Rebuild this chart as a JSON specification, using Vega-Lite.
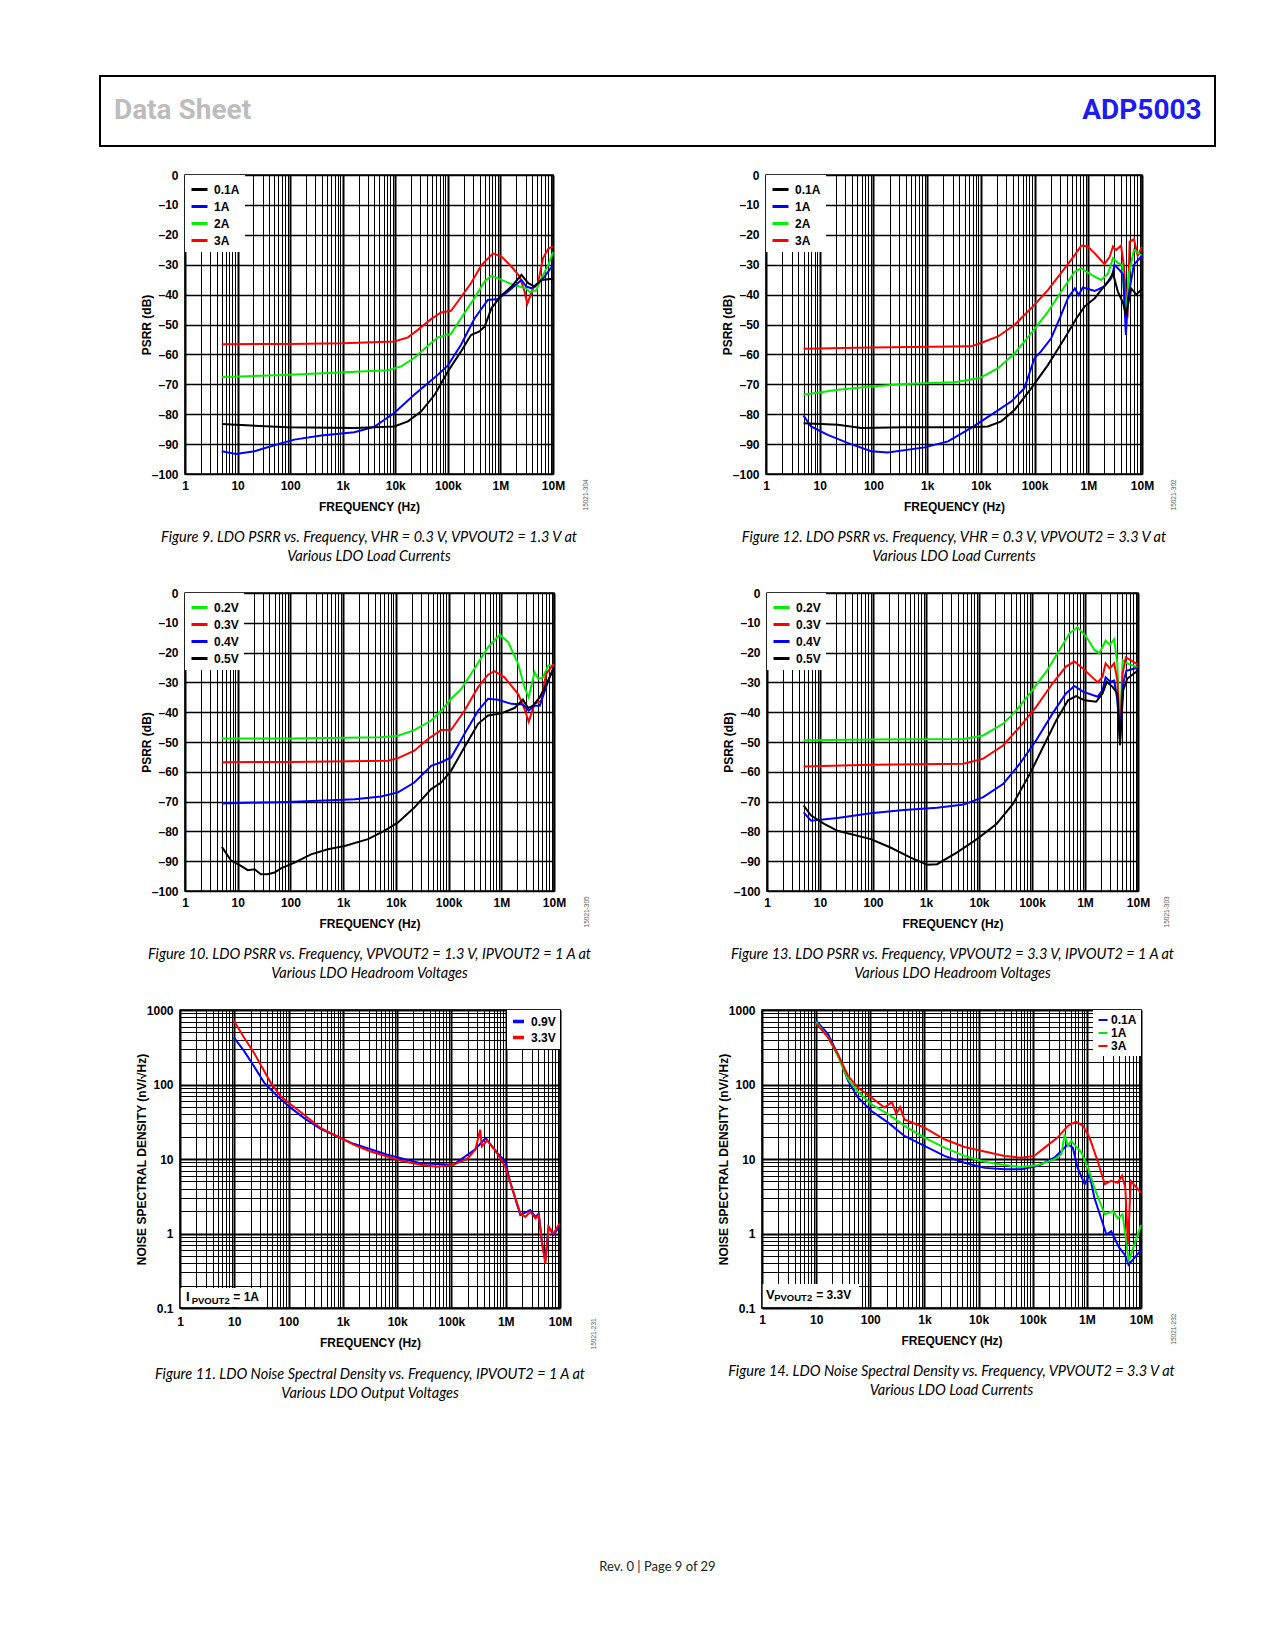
{
  "$schema": "https://vega.github.io/schema/vega-lite/v6.json",
  "background": "white",
  "padding": {"left": 99, "top": 75, "right": 20, "bottom": 20},
  "spacing": 21,
  "resolve": {"scale": {"color": "independent"}, "legend": {"color": "independent"}},
  "config": {
    "font": "Liberation Sans",
    "view": {"stroke": null},
    "axis": {
      "labelFont": "Liberation Sans", "labelFontWeight": "bold", "labelFontSize": 12, "labelColor": "black",
      "titleFont": "Liberation Sans", "titleFontWeight": "bold", "titleFontSize": 12, "titleColor": "black",
      "ticks": false, "domain": false, "gridColor": "black", "gridOpacity": 1,
      "labelOverlap": false, "labelPadding": 7, "titlePadding": -2
    },
    "axisX": {"labelFlush": false, "labelPadding": 6, "titlePadding": 10},
    "legend": {
      "labelFont": "Liberation Sans", "labelFontWeight": "bold", "labelFontSize": 12, "labelColor": "black",
      "fillColor": "white", "padding": 5, "offset": 0, "symbolType": "stroke",
      "symbolStrokeWidth": 3, "symbolSize": 256, "rowPadding": 1, "labelOffset": 5
    },
    "title": {
      "orient": "bottom", "anchor": "middle", "frame": "group", "font": "Lato", "fontStyle": "italic",
      "fontWeight": "normal", "fontSize": 14.5, "color": "black", "lineHeight": 19, "offset": 19
    }
  },
  "datasets": {
    "fig9": [
      {"curve":"3A","hz":5,"db":-56.6},{"curve":"3A","hz":100,"db":-56.5},{"curve":"3A","hz":1000,"db":-56.3},{"curve":"3A","hz":9550,"db":-55.7},{"curve":"3A","hz":17400,"db":-54.3},{"curve":"3A","hz":26900,"db":-51.8},{"curve":"3A","hz":47900,"db":-48.2},{"curve":"3A","hz":74100,"db":-46},{"curve":"3A","hz":115000,"db":-45.4},{"curve":"3A","hz":155000,"db":-42.3},{"curve":"3A","hz":275000,"db":-36.2},{"curve":"3A","hz":437000,"db":-30.1},{"curve":"3A","hz":724000,"db":-26.2},{"curve":"3A","hz":1050000,"db":-27.3},{"curve":"3A","hz":1620000,"db":-30.6},{"curve":"3A","hz":2340000,"db":-34},{"curve":"3A","hz":2880000,"db":-39},{"curve":"3A","hz":3240000,"db":-43.1},{"curve":"3A","hz":4170000,"db":-37.9},{"curve":"3A","hz":5130000,"db":-36.5},{"curve":"3A","hz":6460000,"db":-27.8},{"curve":"3A","hz":8130000,"db":-24.7},{"curve":"3A","hz":10000000,"db":-23.9},
      {"curve":"2A","hz":5,"db":-67.6},{"curve":"2A","hz":100,"db":-66.8},{"curve":"2A","hz":7240,"db":-65.3},{"curve":"2A","hz":12900,"db":-64},{"curve":"2A","hz":22900,"db":-61.2},{"curve":"2A","hz":41700,"db":-57.1},{"curve":"2A","hz":64600,"db":-54.3},{"curve":"2A","hz":115000,"db":-53.1},{"curve":"2A","hz":178000,"db":-47.9},{"curve":"2A","hz":324000,"db":-41},{"curve":"2A","hz":501000,"db":-35.6},{"curve":"2A","hz":676000,"db":-33.7},{"curve":"2A","hz":1050000,"db":-35.1},{"curve":"2A","hz":1620000,"db":-36.5},{"curve":"2A","hz":2140000,"db":-37.1},{"curve":"2A","hz":3090000,"db":-37.9},{"curve":"2A","hz":3630000,"db":-39.2},{"curve":"2A","hz":4790000,"db":-38.6},{"curve":"2A","hz":6030000,"db":-34.5},{"curve":"2A","hz":8130000,"db":-30.1},{"curve":"2A","hz":10000000,"db":-25.8},
      {"curve":"1A","hz":5,"db":-92.4},{"curve":"1A","hz":9.3,"db":-93.3},{"curve":"1A","hz":21,"db":-92.4},{"curve":"1A","hz":50,"db":-90.4},{"curve":"1A","hz":120,"db":-88.5},{"curve":"1A","hz":389,"db":-87.1},{"curve":"1A","hz":1660,"db":-86},{"curve":"1A","hz":3980,"db":-84.2},{"curve":"1A","hz":9550,"db":-79.6},{"curve":"1A","hz":22900,"db":-73.5},{"curve":"1A","hz":64600,"db":-66.8},{"curve":"1A","hz":100000,"db":-63.7},{"curve":"1A","hz":178000,"db":-56.8},{"curve":"1A","hz":324000,"db":-47.9},{"curve":"1A","hz":575000,"db":-41.8},{"curve":"1A","hz":891000,"db":-41.5},{"curve":"1A","hz":1380000,"db":-39},{"curve":"1A","hz":2510000,"db":-35.1},{"curve":"1A","hz":3090000,"db":-37.3},{"curve":"1A","hz":3890000,"db":-37.9},{"curve":"1A","hz":5130000,"db":-36.2},{"curve":"1A","hz":6920000,"db":-34},{"curve":"1A","hz":10000000,"db":-30.1},
      {"curve":"0.1A","hz":5,"db":-83.3},{"curve":"0.1A","hz":89,"db":-84.4},{"curve":"0.1A","hz":1660,"db":-84.6},{"curve":"0.1A","hz":9550,"db":-84.1},{"curve":"0.1A","hz":17400,"db":-82.4},{"curve":"0.1A","hz":30900,"db":-79.1},{"curve":"0.1A","hz":56200,"db":-73.5},{"curve":"0.1A","hz":100000,"db":-65.7},{"curve":"0.1A","hz":178000,"db":-59},{"curve":"0.1A","hz":275000,"db":-53.5},{"curve":"0.1A","hz":398000,"db":-52.3},{"curve":"0.1A","hz":501000,"db":-50.7},{"curve":"0.1A","hz":676000,"db":-44.5},{"curve":"0.1A","hz":1050000,"db":-40.3},{"curve":"0.1A","hz":1620000,"db":-37.3},{"curve":"0.1A","hz":2510000,"db":-33.4},{"curve":"0.1A","hz":3390000,"db":-36.2},{"curve":"0.1A","hz":4470000,"db":-37.3},{"curve":"0.1A","hz":6030000,"db":-35.1},{"curve":"0.1A","hz":10000000,"db":-34.7}
    ],
    "fig12": [
      {"curve":"3A","hz":5,"db":-58.1},{"curve":"3A","hz":91,"db":-57.7},{"curve":"3A","hz":6610,"db":-57.3},{"curve":"3A","hz":10000,"db":-56.2},{"curve":"3A","hz":20900,"db":-54},{"curve":"3A","hz":42700,"db":-50.1},{"curve":"3A","hz":87100,"db":-44.5},{"curve":"3A","hz":178000,"db":-38.4},{"curve":"3A","hz":363000,"db":-31.2},{"curve":"3A","hz":562000,"db":-26.7},{"curve":"3A","hz":741000,"db":-23.6},{"curve":"3A","hz":977000,"db":-23.9},{"curve":"3A","hz":1320000,"db":-26.2},{"curve":"3A","hz":2000000,"db":-29.8},{"curve":"3A","hz":2510000,"db":-27.3},{"curve":"3A","hz":2880000,"db":-23.9},{"curve":"3A","hz":3310000,"db":-25.1},{"curve":"3A","hz":4070000,"db":-23.6},{"curve":"3A","hz":4570000,"db":-30.1},{"curve":"3A","hz":5370000,"db":-47.9},{"curve":"3A","hz":5890000,"db":-22.3},{"curve":"3A","hz":7080000,"db":-21.5},{"curve":"3A","hz":8320000,"db":-27},{"curve":"3A","hz":10000000,"db":-24},
      {"curve":"2A","hz":5,"db":-73.5},{"curve":"2A","hz":21.9,"db":-71.8},{"curve":"2A","hz":91,"db":-70.7},{"curve":"2A","hz":380,"db":-69.9},{"curve":"2A","hz":3240,"db":-69.3},{"curve":"2A","hz":9550,"db":-67.9},{"curve":"2A","hz":20900,"db":-64.6},{"curve":"2A","hz":42700,"db":-59.6},{"curve":"2A","hz":87100,"db":-52.9},{"curve":"2A","hz":178000,"db":-45.7},{"curve":"2A","hz":363000,"db":-37.3},{"curve":"2A","hz":562000,"db":-32.3},{"curve":"2A","hz":741000,"db":-31.2},{"curve":"2A","hz":1150000,"db":-33.4},{"curve":"2A","hz":1740000,"db":-35.1},{"curve":"2A","hz":2340000,"db":-32.9},{"curve":"2A","hz":2880000,"db":-27.8},{"curve":"2A","hz":3550000,"db":-29.4},{"curve":"2A","hz":4270000,"db":-30.1},{"curve":"2A","hz":5010000,"db":-47.9},{"curve":"2A","hz":5750000,"db":-32.9},{"curve":"2A","hz":7080000,"db":-25},{"curve":"2A","hz":10000000,"db":-27},
      {"curve":"1A","hz":5,"db":-80.5},{"curve":"1A","hz":6.9,"db":-84.1},{"curve":"1A","hz":14.1,"db":-86.9},{"curve":"1A","hz":33,"db":-89.6},{"curve":"1A","hz":91,"db":-92.4},{"curve":"1A","hz":186,"db":-92.8},{"curve":"1A","hz":891,"db":-91.1},{"curve":"1A","hz":2450,"db":-89.1},{"curve":"1A","hz":6610,"db":-84.6},{"curve":"1A","hz":15500,"db":-80.2},{"curve":"1A","hz":37200,"db":-75.7},{"curve":"1A","hz":64600,"db":-71.3},{"curve":"1A","hz":100000,"db":-61.2},{"curve":"1A","hz":132000,"db":-59},{"curve":"1A","hz":204000,"db":-54.6},{"curve":"1A","hz":295000,"db":-47.9},{"curve":"1A","hz":417000,"db":-41.2},{"curve":"1A","hz":562000,"db":-37.9},{"curve":"1A","hz":661000,"db":-40.1},{"curve":"1A","hz":794000,"db":-37.6},{"curve":"1A","hz":1320000,"db":-38.8},{"curve":"1A","hz":2000000,"db":-37.3},{"curve":"1A","hz":2690000,"db":-34.5},{"curve":"1A","hz":3090000,"db":-30.1},{"curve":"1A","hz":3800000,"db":-31.7},{"curve":"1A","hz":4470000,"db":-33.4},{"curve":"1A","hz":5010000,"db":-53.5},{"curve":"1A","hz":5500000,"db":-41.2},{"curve":"1A","hz":7080000,"db":-30},{"curve":"1A","hz":10000000,"db":-27},
      {"curve":"0.1A","hz":5,"db":-83},{"curve":"0.1A","hz":21.9,"db":-83.5},{"curve":"0.1A","hz":59,"db":-84.6},{"curve":"0.1A","hz":380,"db":-84.4},{"curve":"0.1A","hz":6610,"db":-84.4},{"curve":"0.1A","hz":13500,"db":-84.1},{"curve":"0.1A","hz":24000,"db":-82.4},{"curve":"0.1A","hz":42700,"db":-78.5},{"curve":"0.1A","hz":87100,"db":-71.3},{"curve":"0.1A","hz":178000,"db":-63.5},{"curve":"0.1A","hz":363000,"db":-54.6},{"curve":"0.1A","hz":603000,"db":-47.9},{"curve":"0.1A","hz":851000,"db":-44},{"curve":"0.1A","hz":1320000,"db":-41.2},{"curve":"0.1A","hz":1740000,"db":-38.4},{"curve":"0.1A","hz":2340000,"db":-35.6},{"curve":"0.1A","hz":2880000,"db":-32.9},{"curve":"0.1A","hz":3550000,"db":-39},{"curve":"0.1A","hz":4470000,"db":-42.9},{"curve":"0.1A","hz":5010000,"db":-46.8},{"curve":"0.1A","hz":6310000,"db":-38},{"curve":"0.1A","hz":7940000,"db":-40},{"curve":"0.1A","hz":10000000,"db":-38}
    ],
    "fig10": [
      {"curve":"0.2V","hz":5,"db":-48.8},{"curve":"0.2V","hz":100,"db":-48.8},{"curve":"0.2V","hz":5250,"db":-48.4},{"curve":"0.2V","hz":11000,"db":-47.9},{"curve":"0.2V","hz":22400,"db":-46},{"curve":"0.2V","hz":46800,"db":-42.8},{"curve":"0.2V","hz":72400,"db":-39.5},{"curve":"0.2V","hz":112000,"db":-35.5},{"curve":"0.2V","hz":174000,"db":-32.2},{"curve":"0.2V","hz":309000,"db":-25.4},{"curve":"0.2V","hz":562000,"db":-18.2},{"curve":"0.2V","hz":933000,"db":-14},{"curve":"0.2V","hz":1350000,"db":-16.5},{"curve":"0.2V","hz":2090000,"db":-23.8},{"curve":"0.2V","hz":2750000,"db":-31.6},{"curve":"0.2V","hz":3310000,"db":-35},{"curve":"0.2V","hz":4270000,"db":-26.6},{"curve":"0.2V","hz":5010000,"db":-28.8},{"curve":"0.2V","hz":6170000,"db":-28.3},{"curve":"0.2V","hz":7760000,"db":-24.3},{"curve":"0.2V","hz":10000000,"db":-24.3},
      {"curve":"0.3V","hz":5,"db":-56.8},{"curve":"0.3V","hz":100,"db":-56.7},{"curve":"0.3V","hz":7080,"db":-56.3},{"curve":"0.3V","hz":11000,"db":-55.4},{"curve":"0.3V","hz":22400,"db":-52.9},{"curve":"0.3V","hz":40700,"db":-49},{"curve":"0.3V","hz":72400,"db":-46},{"curve":"0.3V","hz":112000,"db":-45.9},{"curve":"0.3V","hz":200000,"db":-39.5},{"curve":"0.3V","hz":363000,"db":-31.6},{"curve":"0.3V","hz":562000,"db":-27.4},{"curve":"0.3V","hz":741000,"db":-26.2},{"curve":"0.3V","hz":1150000,"db":-28.3},{"curve":"0.3V","hz":2090000,"db":-33.9},{"curve":"0.3V","hz":2750000,"db":-38.9},{"curve":"0.3V","hz":3310000,"db":-43.2},{"curve":"0.3V","hz":4270000,"db":-37.2},{"curve":"0.3V","hz":5750000,"db":-36.1},{"curve":"0.3V","hz":7080000,"db":-27.1},{"curve":"0.3V","hz":10000000,"db":-23.8},
      {"curve":"0.4V","hz":5,"db":-70.6},{"curve":"0.4V","hz":89,"db":-70.1},{"curve":"0.4V","hz":1660,"db":-69.2},{"curve":"0.4V","hz":5250,"db":-68.3},{"curve":"0.4V","hz":11000,"db":-66.9},{"curve":"0.4V","hz":22400,"db":-63.6},{"curve":"0.4V","hz":46800,"db":-58},{"curve":"0.4V","hz":72400,"db":-56.8},{"curve":"0.4V","hz":112000,"db":-55.2},{"curve":"0.4V","hz":200000,"db":-47.3},{"curve":"0.4V","hz":363000,"db":-39.5},{"curve":"0.4V","hz":562000,"db":-35.5},{"curve":"0.4V","hz":871000,"db":-35.8},{"curve":"0.4V","hz":1550000,"db":-37.2},{"curve":"0.4V","hz":2570000,"db":-37.4},{"curve":"0.4V","hz":3310000,"db":-39.5},{"curve":"0.4V","hz":4270000,"db":-37.8},{"curve":"0.4V","hz":5370000,"db":-37.8},{"curve":"0.4V","hz":7760000,"db":-29.4},{"curve":"0.4V","hz":10000000,"db":-24.9},
      {"curve":"0.5V","hz":5,"db":-85.2},{"curve":"0.5V","hz":7.4,"db":-89.7},{"curve":"0.5V","hz":11.5,"db":-91.6},{"curve":"0.5V","hz":15.5,"db":-93},{"curve":"0.5V","hz":20.9,"db":-92.7},{"curve":"0.5V","hz":27.5,"db":-94.4},{"curve":"0.5V","hz":37.2,"db":-94.4},{"curve":"0.5V","hz":50,"db":-93.8},{"curve":"0.5V","hz":66,"db":-92.4},{"curve":"0.5V","hz":120,"db":-90.5},{"curve":"0.5V","hz":245,"db":-87.7},{"curve":"0.5V","hz":513,"db":-86},{"curve":"0.5V","hz":1070,"db":-84.9},{"curve":"0.5V","hz":2950,"db":-82.6},{"curve":"0.5V","hz":6030,"db":-79.8},{"curve":"0.5V","hz":11000,"db":-77},{"curve":"0.5V","hz":22400,"db":-72},{"curve":"0.5V","hz":46800,"db":-65.8},{"curve":"0.5V","hz":72400,"db":-63.6},{"curve":"0.5V","hz":112000,"db":-59.6},{"curve":"0.5V","hz":200000,"db":-51.8},{"curve":"0.5V","hz":363000,"db":-43.9},{"curve":"0.5V","hz":562000,"db":-41.1},{"curve":"0.5V","hz":1000000,"db":-40.4},{"curve":"0.5V","hz":1780000,"db":-38.6},{"curve":"0.5V","hz":2570000,"db":-35.8},{"curve":"0.5V","hz":3240000,"db":-38.6},{"curve":"0.5V","hz":3980000,"db":-37.8},{"curve":"0.5V","hz":5370000,"db":-35},{"curve":"0.5V","hz":7760000,"db":-29.4},{"curve":"0.5V","hz":10000000,"db":-24.9}
    ],
    "fig13": [
      {"curve":"0.2V","hz":4.9,"db":-49.4},{"curve":"0.2V","hz":100,"db":-49.2},{"curve":"0.2V","hz":5130,"db":-49},{"curve":"0.2V","hz":12000,"db":-47.8},{"curve":"0.2V","hz":28800,"db":-43.8},{"curve":"0.2V","hz":51300,"db":-39.3},{"curve":"0.2V","hz":91200,"db":-33.7},{"curve":"0.2V","hz":186000,"db":-26.4},{"curve":"0.2V","hz":331000,"db":-19.1},{"curve":"0.2V","hz":513000,"db":-13.5},{"curve":"0.2V","hz":724000,"db":-11.5},{"curve":"0.2V","hz":1050000,"db":-14.6},{"curve":"0.2V","hz":1510000,"db":-19.1},{"curve":"0.2V","hz":1860000,"db":-20.2},{"curve":"0.2V","hz":2450000,"db":-16},{"curve":"0.2V","hz":2950000,"db":-17.4},{"curve":"0.2V","hz":3550000,"db":-15.5},{"curve":"0.2V","hz":4070000,"db":-23.6},{"curve":"0.2V","hz":4570000,"db":-47.2},{"curve":"0.2V","hz":5130000,"db":-22.5},{"curve":"0.2V","hz":6310000,"db":-23.6},{"curve":"0.2V","hz":10000000,"db":-25},
      {"curve":"0.3V","hz":4.9,"db":-58.2},{"curve":"0.3V","hz":91,"db":-57.6},{"curve":"0.3V","hz":5130,"db":-57.3},{"curve":"0.3V","hz":12000,"db":-55.6},{"curve":"0.3V","hz":28800,"db":-51.1},{"curve":"0.3V","hz":58900,"db":-44.9},{"curve":"0.3V","hz":120000,"db":-38.2},{"curve":"0.3V","hz":245000,"db":-30.3},{"curve":"0.3V","hz":437000,"db":-24.7},{"curve":"0.3V","hz":631000,"db":-23},{"curve":"0.3V","hz":912000,"db":-25.3},{"curve":"0.3V","hz":1740000,"db":-30},{"curve":"0.3V","hz":2140000,"db":-28.1},{"curve":"0.3V","hz":2450000,"db":-23.6},{"curve":"0.3V","hz":2950000,"db":-25.3},{"curve":"0.3V","hz":3550000,"db":-23.6},{"curve":"0.3V","hz":4070000,"db":-29.2},{"curve":"0.3V","hz":4570000,"db":-49.4},{"curve":"0.3V","hz":5130000,"db":-27},{"curve":"0.3V","hz":5890000,"db":-21.6},{"curve":"0.3V","hz":10000000,"db":-24},
      {"curve":"0.4V","hz":4.9,"db":-73.6},{"curve":"0.4V","hz":6.8,"db":-76.4},{"curve":"0.4V","hz":21.4,"db":-75.5},{"curve":"0.4V","hz":91,"db":-73.9},{"curve":"0.4V","hz":380,"db":-72.8},{"curve":"0.4V","hz":1620,"db":-72.1},{"curve":"0.4V","hz":5130,"db":-71},{"curve":"0.4V","hz":12000,"db":-68.5},{"curve":"0.4V","hz":28800,"db":-64},{"curve":"0.4V","hz":58900,"db":-57.3},{"curve":"0.4V","hz":120000,"db":-49.4},{"curve":"0.4V","hz":245000,"db":-40.4},{"curve":"0.4V","hz":437000,"db":-33.7},{"curve":"0.4V","hz":631000,"db":-31.2},{"curve":"0.4V","hz":912000,"db":-33.1},{"curve":"0.4V","hz":1740000,"db":-34.8},{"curve":"0.4V","hz":2140000,"db":-32.6},{"curve":"0.4V","hz":2450000,"db":-28.3},{"curve":"0.4V","hz":3020000,"db":-29.8},{"curve":"0.4V","hz":3550000,"db":-29.4},{"curve":"0.4V","hz":4070000,"db":-35.7},{"curve":"0.4V","hz":4570000,"db":-48.9},{"curve":"0.4V","hz":5250000,"db":-30.3},{"curve":"0.4V","hz":6030000,"db":-26.1},{"curve":"0.4V","hz":10000000,"db":-25},
      {"curve":"0.5V","hz":4.9,"db":-71.3},{"curve":"0.5V","hz":6.8,"db":-74.7},{"curve":"0.5V","hz":12,"db":-77.5},{"curve":"0.5V","hz":21.4,"db":-79.8},{"curve":"0.5V","hz":91,"db":-82.6},{"curve":"0.5V","hz":214,"db":-85.4},{"curve":"0.5V","hz":513,"db":-88.8},{"curve":"0.5V","hz":1050,"db":-91.2},{"curve":"0.5V","hz":1620,"db":-91},{"curve":"0.5V","hz":3800,"db":-87.1},{"curve":"0.5V","hz":9120,"db":-82.6},{"curve":"0.5V","hz":21400,"db":-77.5},{"curve":"0.5V","hz":43700,"db":-70.8},{"curve":"0.5V","hz":91200,"db":-60.7},{"curve":"0.5V","hz":162000,"db":-51.7},{"curve":"0.5V","hz":288000,"db":-42.7},{"curve":"0.5V","hz":479000,"db":-36},{"curve":"0.5V","hz":676000,"db":-34.6},{"curve":"0.5V","hz":977000,"db":-36},{"curve":"0.5V","hz":1620000,"db":-36.5},{"curve":"0.5V","hz":2140000,"db":-33.7},{"curve":"0.5V","hz":2570000,"db":-29.8},{"curve":"0.5V","hz":3310000,"db":-31.5},{"curve":"0.5V","hz":4070000,"db":-33.7},{"curve":"0.5V","hz":4570000,"db":-51.1},{"curve":"0.5V","hz":5250000,"db":-32.6},{"curve":"0.5V","hz":6310000,"db":-28.7},{"curve":"0.5V","hz":10000000,"db":-26}
    ],
    "fig11": [
      {"curve":"0.9V","hz":9.8,"nsd":428},{"curve":"0.9V","hz":15.1,"nsd":283},{"curve":"0.9V","hz":22.9,"nsd":177},{"curve":"0.9V","hz":35.5,"nsd":106},{"curve":"0.9V","hz":61.7,"nsd":70},{"curve":"0.9V","hz":110,"nsd":48.5},{"curve":"0.9V","hz":191,"nsd":35.6},{"curve":"0.9V","hz":389,"nsd":25.3},{"curve":"0.9V","hz":1580,"nsd":16},{"curve":"0.9V","hz":6610,"nsd":11.4},{"curve":"0.9V","hz":26900,"nsd":8.8},{"curve":"0.9V","hz":110000,"nsd":8.4},{"curve":"0.9V","hz":275000,"nsd":13.5},{"curve":"0.9V","hz":427000,"nsd":19.1},{"curve":"0.9V","hz":692000,"nsd":12.2},{"curve":"0.9V","hz":977000,"nsd":9.3},{"curve":"0.9V","hz":1230000,"nsd":4.7},{"curve":"0.9V","hz":1860000,"nsd":1.77},{"curve":"0.9V","hz":2820000,"nsd":2.06},{"curve":"0.9V","hz":3550000,"nsd":1.67},{"curve":"0.9V","hz":4070000,"nsd":1.86},{"curve":"0.9V","hz":4680000,"nsd":0.73},{"curve":"0.9V","hz":5370000,"nsd":0.44},{"curve":"0.9V","hz":6170000,"nsd":1.23},{"curve":"0.9V","hz":7590000,"nsd":0.96},{"curve":"0.9V","hz":9770000,"nsd":1.23},
      {"curve":"3.3V","hz":9.8,"nsd":718},{"curve":"3.3V","hz":15.1,"nsd":428},{"curve":"3.3V","hz":22.9,"nsd":269},{"curve":"3.3V","hz":30.2,"nsd":187},{"curve":"3.3V","hz":46.8,"nsd":106},{"curve":"3.3V","hz":70.8,"nsd":70},{"curve":"3.3V","hz":110,"nsd":54},{"curve":"3.3V","hz":191,"nsd":39.5},{"curve":"3.3V","hz":389,"nsd":26.1},{"curve":"3.3V","hz":794,"nsd":20.1},{"curve":"3.3V","hz":1580,"nsd":15.6},{"curve":"3.3V","hz":3240,"nsd":12.6},{"curve":"3.3V","hz":6610,"nsd":10.8},{"curve":"3.3V","hz":13200,"nsd":9.3},{"curve":"3.3V","hz":26900,"nsd":8.4},{"curve":"3.3V","hz":55000,"nsd":7.9},{"curve":"3.3V","hz":110000,"nsd":8.4},{"curve":"3.3V","hz":195000,"nsd":10},{"curve":"3.3V","hz":275000,"nsd":13.3},{"curve":"3.3V","hz":339000,"nsd":24.8},{"curve":"3.3V","hz":363000,"nsd":14.8},{"curve":"3.3V","hz":457000,"nsd":17.8},{"curve":"3.3V","hz":692000,"nsd":12},{"curve":"3.3V","hz":977000,"nsd":7.9},{"curve":"3.3V","hz":1230000,"nsd":4.7},{"curve":"3.3V","hz":1860000,"nsd":1.86},{"curve":"3.3V","hz":2290000,"nsd":1.67},{"curve":"3.3V","hz":2820000,"nsd":1.96},{"curve":"3.3V","hz":3550000,"nsd":1.59},{"curve":"3.3V","hz":4070000,"nsd":1.77},{"curve":"3.3V","hz":4680000,"nsd":0.73},{"curve":"3.3V","hz":5370000,"nsd":0.39},{"curve":"3.3V","hz":6170000,"nsd":1.23},{"curve":"3.3V","hz":7590000,"nsd":1.0},{"curve":"3.3V","hz":9770000,"nsd":1.36}
    ],
    "fig14": [
      {"curve":"0.1A","hz":10,"nsd":720},{"curve":"0.1A","hz":16.6,"nsd":475},{"curve":"0.1A","hz":25.1,"nsd":256},{"curve":"0.1A","hz":38.9,"nsd":112},{"curve":"0.1A","hz":58.9,"nsd":67},{"curve":"0.1A","hz":105,"nsd":44},{"curve":"0.1A","hz":214,"nsd":30.8},{"curve":"0.1A","hz":427,"nsd":20.4},{"curve":"0.1A","hz":1000,"nsd":15},{"curve":"0.1A","hz":2340,"nsd":11},{"curve":"0.1A","hz":5500,"nsd":8.9},{"curve":"0.1A","hz":12900,"nsd":7.6},{"curve":"0.1A","hz":30200,"nsd":7.3},{"curve":"0.1A","hz":61700,"nsd":7.3},{"curve":"0.1A","hz":126000,"nsd":8.1},{"curve":"0.1A","hz":251000,"nsd":10.4},{"curve":"0.1A","hz":339000,"nsd":12.8},{"curve":"0.1A","hz":447000,"nsd":15.7},{"curve":"0.1A","hz":550000,"nsd":14.2},{"curve":"0.1A","hz":676000,"nsd":7.6},{"curve":"0.1A","hz":912000,"nsd":4.6},{"curve":"0.1A","hz":1120000,"nsd":6.2},{"curve":"0.1A","hz":1380000,"nsd":3.0},{"curve":"0.1A","hz":1820000,"nsd":1.63},{"curve":"0.1A","hz":2290000,"nsd":0.97},{"curve":"0.1A","hz":2820000,"nsd":1.07},{"curve":"0.1A","hz":3240000,"nsd":0.87},{"curve":"0.1A","hz":3980000,"nsd":0.64},{"curve":"0.1A","hz":5010000,"nsd":0.52},{"curve":"0.1A","hz":5890000,"nsd":0.38},{"curve":"0.1A","hz":6610000,"nsd":0.42},{"curve":"0.1A","hz":10000000,"nsd":0.6},
      {"curve":"1A","hz":10,"nsd":692},{"curve":"1A","hz":16.6,"nsd":428},{"curve":"1A","hz":25.1,"nsd":243},{"curve":"1A","hz":38.9,"nsd":118},{"curve":"1A","hz":58.9,"nsd":80.5},{"curve":"1A","hz":105,"nsd":54.3},{"curve":"1A","hz":214,"nsd":40},{"curve":"1A","hz":427,"nsd":27.8},{"curve":"1A","hz":1000,"nsd":19.4},{"curve":"1A","hz":2340,"nsd":14.2},{"curve":"1A","hz":5500,"nsd":11},{"curve":"1A","hz":12900,"nsd":9.2},{"curve":"1A","hz":30200,"nsd":8.3},{"curve":"1A","hz":61700,"nsd":7.8},{"curve":"1A","hz":126000,"nsd":8.3},{"curve":"1A","hz":251000,"nsd":9.9},{"curve":"1A","hz":339000,"nsd":11.6},{"curve":"1A","hz":389000,"nsd":21.5},{"curve":"1A","hz":447000,"nsd":15},{"curve":"1A","hz":513000,"nsd":17.5},{"curve":"1A","hz":794000,"nsd":12.2},{"curve":"1A","hz":1050000,"nsd":7.6},{"curve":"1A","hz":1380000,"nsd":4.1},{"curve":"1A","hz":1820000,"nsd":2.45},{"curve":"1A","hz":2140000,"nsd":1.8},{"curve":"1A","hz":3020000,"nsd":2.0},{"curve":"1A","hz":3720000,"nsd":1.6},{"curve":"1A","hz":4570000,"nsd":1.8},{"curve":"1A","hz":5250000,"nsd":0.87},{"curve":"1A","hz":5890000,"nsd":0.42},{"curve":"1A","hz":10000000,"nsd":1.3},
      {"curve":"3A","hz":10,"nsd":662},{"curve":"3A","hz":16.6,"nsd":428},{"curve":"3A","hz":25.1,"nsd":256},{"curve":"3A","hz":38.9,"nsd":131},{"curve":"3A","hz":58.9,"nsd":91},{"curve":"3A","hz":105,"nsd":67},{"curve":"3A","hz":182,"nsd":49},{"curve":"3A","hz":251,"nsd":58},{"curve":"3A","hz":302,"nsd":40},{"curve":"3A","hz":355,"nsd":50},{"curve":"3A","hz":427,"nsd":34},{"curve":"3A","hz":1000,"nsd":26.4},{"curve":"3A","hz":2340,"nsd":18.4},{"curve":"3A","hz":5500,"nsd":14.5},{"curve":"3A","hz":12900,"nsd":12.6},{"curve":"3A","hz":30200,"nsd":11},{"curve":"3A","hz":61700,"nsd":10.4},{"curve":"3A","hz":107000,"nsd":11},{"curve":"3A","hz":166000,"nsd":14.2},{"curve":"3A","hz":288000,"nsd":19.4},{"curve":"3A","hz":447000,"nsd":27.8},{"curve":"3A","hz":631000,"nsd":31.8},{"curve":"3A","hz":851000,"nsd":27.8},{"curve":"3A","hz":1120000,"nsd":19.4},{"curve":"3A","hz":1580000,"nsd":9.4},{"curve":"3A","hz":2140000,"nsd":4.6},{"curve":"3A","hz":2820000,"nsd":5.1},{"curve":"3A","hz":3720000,"nsd":4.8},{"curve":"3A","hz":4470000,"nsd":6.0},{"curve":"3A","hz":5130000,"nsd":4.1},{"curve":"3A","hz":5750000,"nsd":0.71},{"curve":"3A","hz":6460000,"nsd":5.1},{"curve":"3A","hz":10000000,"nsd":3.5}
    ]
  },
  "vconcat": [
    {
      "width": 1115, "height": 70,
      "view": {"stroke": "black", "strokeWidth": 2},
      "data": {"values": [{}]},
      "layer": [
        {
          "mark": {"type": "text", "align": "left", "baseline": "middle", "font": "Roboto", "fontWeight": "bold", "fontSize": 28, "color": "#bdbdbd"},
          "encoding": {
            "x": {"datum": 0.0125, "type": "quantitative", "scale": {"domain": [0, 1]}, "axis": null},
            "y": {"datum": 0.5, "type": "quantitative", "scale": {"domain": [0, 1]}, "axis": null},
            "text": {"value": "Data Sheet"}
          }
        },
        {
          "mark": {"type": "text", "align": "right", "baseline": "middle", "font": "Roboto", "fontWeight": "bold", "fontSize": 28, "color": "#1c1cf0"},
          "encoding": {
            "x": {"datum": 0.988, "type": "quantitative", "axis": null},
            "y": {"datum": 0.5, "type": "quantitative", "axis": null},
            "text": {"value": "ADP5003"}
          }
        }
      ]
    },
    {
      "bounds": "flush", "spacing": 0,
      "resolve": {"scale": {"color": "independent"}, "legend": {"color": "independent"}},
      "hconcat": [
        {"width": 85, "height": 1, "view": {"fill": "white", "stroke": null}, "data": {"values": [{}]}, "mark": {"type": "point", "opacity": 0}},
        {
          "width": 368, "height": 299,
          "view": {"stroke": "black", "strokeWidth": 1.5},
          "title": {"text": ["Figure 9. LDO PSRR vs. Frequency, VHR = 0.3 V, VPVOUT2 = 1.3 V at", "Various LDO Load Currents"]},
          "layer": [
            {
              "data": {"name": "fig9"},
              "mark": {"type": "line", "strokeWidth": 2},
              "encoding": {
                "x": {"field": "hz", "type": "quantitative", "scale": {"type": "log", "domain": [1, 10000000], "nice": false},
                  "axis": {"title": "FREQUENCY (Hz)", "grid": true,
                    "values": [1,2,3,4,5,6,7,8,9,10,20,30,40,50,60,70,80,90,100,200,300,400,500,600,700,800,900,1000,2000,3000,4000,5000,6000,7000,8000,9000,10000,20000,30000,40000,50000,60000,70000,80000,90000,100000,200000,300000,400000,500000,600000,700000,800000,900000,1000000,2000000,3000000,4000000,5000000,6000000,7000000,8000000,9000000,10000000],
                    "labelExpr": "datum.value == 1 ? '1' : datum.value == 10 ? '10' : datum.value == 100 ? '100' : datum.value == 1000 ? '1k' : datum.value == 10000 ? '10k' : datum.value == 100000 ? '100k' : datum.value == 1000000 ? '1M' : datum.value == 10000000 ? '10M' : ''",
                    "gridWidth": {"condition": {"test": "indexof([1,10,100,1000,10000,100000,1000000,10000000], datum.value) >= 0", "value": 2}, "value": 1}}},
                "y": {"field": "db", "type": "quantitative", "scale": {"domain": [-100, 0], "nice": false},
                  "axis": {"title": "PSRR (dB)", "grid": true, "gridWidth": 1.3, "labelOverlap": false, "tickCount": 11, "values": [-100,-90,-80,-70,-60,-50,-40,-30,-20,-10,0],
                    "labelExpr": "datum.value == 0 ? '0' : '–' + abs(datum.value)"}},
                "color": {"field": "curve", "type": "nominal",
                  "scale": {"domain": ["0.1A", "1A", "2A", "3A"], "range": ["#000000", "#0000ff", "#00ee00", "#ff0000"]},
                  "legend": {"title": null, "orient": "top-left"}}
              }
            },
            {
              "data": {"values": [{}]},
              "mark": {"type": "text", "angle": 270, "fontSize": 6.5, "color": "#555555", "baseline": "middle", "align": "center"},
              "encoding": {"x": {"datum": 42000000, "type": "quantitative"},
                "y": {"datum": -107, "type": "quantitative", "scale": {"domain": [-100, 0], "nice": false},
                  "axis": {"title": "PSRR (dB)", "grid": true, "gridWidth": 1.3, "labelOverlap": false, "tickCount": 11, "values": [-100,-90,-80,-70,-60,-50,-40,-30,-20,-10,0],
                    "labelExpr": "datum.value == 0 ? '0' : '–' + abs(datum.value)"}},
                "text": {"value": "15021-304"}}
            }
          ]
        },
        {"width": 213, "height": 1, "data": {"values": [{}]}, "mark": {"type": "point", "opacity": 0}},
        {
          "width": 376, "height": 299,
          "view": {"stroke": "black", "strokeWidth": 1.5},
          "title": {"text": ["Figure 12. LDO PSRR vs. Frequency, VHR = 0.3 V, VPVOUT2 = 3.3 V at", "Various LDO Load Currents"]},
          "layer": [
            {
              "data": {"name": "fig12"},
              "mark": {"type": "line", "strokeWidth": 2},
              "encoding": {
                "x": {"field": "hz", "type": "quantitative", "scale": {"type": "log", "domain": [1, 10000000], "nice": false},
                  "axis": {"title": "FREQUENCY (Hz)", "grid": true,
                    "values": [1,2,3,4,5,6,7,8,9,10,20,30,40,50,60,70,80,90,100,200,300,400,500,600,700,800,900,1000,2000,3000,4000,5000,6000,7000,8000,9000,10000,20000,30000,40000,50000,60000,70000,80000,90000,100000,200000,300000,400000,500000,600000,700000,800000,900000,1000000,2000000,3000000,4000000,5000000,6000000,7000000,8000000,9000000,10000000],
                    "labelExpr": "datum.value == 1 ? '1' : datum.value == 10 ? '10' : datum.value == 100 ? '100' : datum.value == 1000 ? '1k' : datum.value == 10000 ? '10k' : datum.value == 100000 ? '100k' : datum.value == 1000000 ? '1M' : datum.value == 10000000 ? '10M' : ''",
                    "gridWidth": {"condition": {"test": "indexof([1,10,100,1000,10000,100000,1000000,10000000], datum.value) >= 0", "value": 2}, "value": 1}}},
                "y": {"field": "db", "type": "quantitative", "scale": {"domain": [-100, 0], "nice": false},
                  "axis": {"title": "PSRR (dB)", "grid": true, "gridWidth": 1.3, "labelOverlap": false, "tickCount": 11, "values": [-100,-90,-80,-70,-60,-50,-40,-30,-20,-10,0],
                    "labelExpr": "datum.value == 0 ? '0' : '–' + abs(datum.value)"}},
                "color": {"field": "curve", "type": "nominal",
                  "scale": {"domain": ["0.1A", "1A", "2A", "3A"], "range": ["#000000", "#0000ff", "#00ee00", "#ff0000"]},
                  "legend": {"title": null, "orient": "top-left"}}
              }
            },
            {
              "data": {"values": [{}]},
              "mark": {"type": "text", "angle": 270, "fontSize": 6.5, "color": "#555555", "baseline": "middle", "align": "center"},
              "encoding": {"x": {"datum": 39000000, "type": "quantitative"},
                "y": {"datum": -107, "type": "quantitative", "scale": {"domain": [-100, 0], "nice": false},
                  "axis": {"title": "PSRR (dB)", "grid": true, "gridWidth": 1.3, "labelOverlap": false, "tickCount": 11, "values": [-100,-90,-80,-70,-60,-50,-40,-30,-20,-10,0],
                    "labelExpr": "datum.value == 0 ? '0' : '–' + abs(datum.value)"}},
                "text": {"value": "15021-302"}}
            }
          ]
        }
      ]
    },
    {
      "bounds": "flush", "spacing": 0,
      "resolve": {"scale": {"color": "independent"}, "legend": {"color": "independent"}},
      "hconcat": [
        {"width": 85, "height": 1, "view": {"fill": "white", "stroke": null}, "data": {"values": [{}]}, "mark": {"type": "point", "opacity": 0}},
        {
          "width": 369, "height": 298,
          "view": {"stroke": "black", "strokeWidth": 1.5},
          "title": {"text": ["Figure 10. LDO PSRR vs. Frequency, VPVOUT2 = 1.3 V, IPVOUT2 = 1 A at", "Various LDO Headroom Voltages"]},
          "layer": [
            {
              "data": {"name": "fig10"},
              "mark": {"type": "line", "strokeWidth": 2},
              "encoding": {
                "x": {"field": "hz", "type": "quantitative", "scale": {"type": "log", "domain": [1, 10000000], "nice": false},
                  "axis": {"title": "FREQUENCY (Hz)", "grid": true,
                    "values": [1,2,3,4,5,6,7,8,9,10,20,30,40,50,60,70,80,90,100,200,300,400,500,600,700,800,900,1000,2000,3000,4000,5000,6000,7000,8000,9000,10000,20000,30000,40000,50000,60000,70000,80000,90000,100000,200000,300000,400000,500000,600000,700000,800000,900000,1000000,2000000,3000000,4000000,5000000,6000000,7000000,8000000,9000000,10000000],
                    "labelExpr": "datum.value == 1 ? '1' : datum.value == 10 ? '10' : datum.value == 100 ? '100' : datum.value == 1000 ? '1k' : datum.value == 10000 ? '10k' : datum.value == 100000 ? '100k' : datum.value == 1000000 ? '1M' : datum.value == 10000000 ? '10M' : ''",
                    "gridWidth": {"condition": {"test": "indexof([1,10,100,1000,10000,100000,1000000,10000000], datum.value) >= 0", "value": 2}, "value": 1}}},
                "y": {"field": "db", "type": "quantitative", "scale": {"domain": [-100, 0], "nice": false},
                  "axis": {"title": "PSRR (dB)", "grid": true, "gridWidth": 1.3, "labelOverlap": false, "tickCount": 11, "values": [-100,-90,-80,-70,-60,-50,-40,-30,-20,-10,0],
                    "labelExpr": "datum.value == 0 ? '0' : '–' + abs(datum.value)"}},
                "color": {"field": "curve", "type": "nominal",
                  "scale": {"domain": ["0.2V", "0.3V", "0.4V", "0.5V"], "range": ["#00ee00", "#ff0000", "#0000ff", "#000000"]},
                  "legend": {"title": null, "orient": "top-left"}}
              }
            },
            {
              "data": {"values": [{}]},
              "mark": {"type": "text", "angle": 270, "fontSize": 6.5, "color": "#555555", "baseline": "middle", "align": "center"},
              "encoding": {"x": {"datum": 42000000, "type": "quantitative"},
                "y": {"datum": -107, "type": "quantitative", "scale": {"domain": [-100, 0], "nice": false},
                  "axis": {"title": "PSRR (dB)", "grid": true, "gridWidth": 1.3, "labelOverlap": false, "tickCount": 11, "values": [-100,-90,-80,-70,-60,-50,-40,-30,-20,-10,0],
                    "labelExpr": "datum.value == 0 ? '0' : '–' + abs(datum.value)"}},
                "text": {"value": "15021-305"}}
            }
          ]
        },
        {"width": 213, "height": 1, "data": {"values": [{}]}, "mark": {"type": "point", "opacity": 0}},
        {
          "width": 371, "height": 298,
          "view": {"stroke": "black", "strokeWidth": 1.5},
          "title": {"text": ["Figure 13. LDO PSRR vs. Frequency, VPVOUT2 = 3.3 V, IPVOUT2 = 1 A at", "Various LDO Headroom Voltages"]},
          "layer": [
            {
              "data": {"name": "fig13"},
              "mark": {"type": "line", "strokeWidth": 2},
              "encoding": {
                "x": {"field": "hz", "type": "quantitative", "scale": {"type": "log", "domain": [1, 10000000], "nice": false},
                  "axis": {"title": "FREQUENCY (Hz)", "grid": true,
                    "values": [1,2,3,4,5,6,7,8,9,10,20,30,40,50,60,70,80,90,100,200,300,400,500,600,700,800,900,1000,2000,3000,4000,5000,6000,7000,8000,9000,10000,20000,30000,40000,50000,60000,70000,80000,90000,100000,200000,300000,400000,500000,600000,700000,800000,900000,1000000,2000000,3000000,4000000,5000000,6000000,7000000,8000000,9000000,10000000],
                    "labelExpr": "datum.value == 1 ? '1' : datum.value == 10 ? '10' : datum.value == 100 ? '100' : datum.value == 1000 ? '1k' : datum.value == 10000 ? '10k' : datum.value == 100000 ? '100k' : datum.value == 1000000 ? '1M' : datum.value == 10000000 ? '10M' : ''",
                    "gridWidth": {"condition": {"test": "indexof([1,10,100,1000,10000,100000,1000000,10000000], datum.value) >= 0", "value": 2}, "value": 1}}},
                "y": {"field": "db", "type": "quantitative", "scale": {"domain": [-100, 0], "nice": false},
                  "axis": {"title": "PSRR (dB)", "grid": true, "gridWidth": 1.3, "labelOverlap": false, "tickCount": 11, "values": [-100,-90,-80,-70,-60,-50,-40,-30,-20,-10,0],
                    "labelExpr": "datum.value == 0 ? '0' : '–' + abs(datum.value)"}},
                "color": {"field": "curve", "type": "nominal",
                  "scale": {"domain": ["0.2V", "0.3V", "0.4V", "0.5V"], "range": ["#00ee00", "#ff0000", "#0000ff", "#000000"]},
                  "legend": {"title": null, "orient": "top-left"}}
              }
            },
            {
              "data": {"values": [{}]},
              "mark": {"type": "text", "angle": 270, "fontSize": 6.5, "color": "#555555", "baseline": "middle", "align": "center"},
              "encoding": {"x": {"datum": 36000000, "type": "quantitative"},
                "y": {"datum": -107, "type": "quantitative", "scale": {"domain": [-100, 0], "nice": false},
                  "axis": {"title": "PSRR (dB)", "grid": true, "gridWidth": 1.3, "labelOverlap": false, "tickCount": 11, "values": [-100,-90,-80,-70,-60,-50,-40,-30,-20,-10,0],
                    "labelExpr": "datum.value == 0 ? '0' : '–' + abs(datum.value)"}},
                "text": {"value": "15021-303"}}
            }
          ]
        }
      ]
    },
    {
      "bounds": "flush", "spacing": 0,
      "resolve": {"scale": {"color": "independent"}, "legend": {"color": "independent"}},
      "hconcat": [
        {"width": 80, "height": 1, "view": {"fill": "white", "stroke": null}, "data": {"values": [{}]}, "mark": {"type": "point", "opacity": 0}},
        {
          "width": 380, "height": 298,
          "view": {"stroke": "black", "strokeWidth": 1.5},
          "title": {"text": ["Figure 11. LDO Noise Spectral Density vs. Frequency, IPVOUT2 = 1 A at", "Various LDO Output Voltages"]},
          "layer": [
            {
              "data": {"name": "fig11"},
              "mark": {"type": "line", "strokeWidth": 2},
              "encoding": {
                "x": {"field": "hz", "type": "quantitative", "scale": {"type": "log", "domain": [1, 10000000], "nice": false},
                  "axis": {"title": "FREQUENCY (Hz)", "grid": true, "labelPadding": 8,
                    "values": [1,2,3,4,5,6,7,8,9,10,20,30,40,50,60,70,80,90,100,200,300,400,500,600,700,800,900,1000,2000,3000,4000,5000,6000,7000,8000,9000,10000,20000,30000,40000,50000,60000,70000,80000,90000,100000,200000,300000,400000,500000,600000,700000,800000,900000,1000000,2000000,3000000,4000000,5000000,6000000,7000000,8000000,9000000,10000000],
                    "labelExpr": "datum.value == 1 ? '1' : datum.value == 10 ? '10' : datum.value == 100 ? '100' : datum.value == 1000 ? '1k' : datum.value == 10000 ? '10k' : datum.value == 100000 ? '100k' : datum.value == 1000000 ? '1M' : datum.value == 10000000 ? '10M' : ''",
                    "gridWidth": {"condition": {"test": "indexof([1,10,100,1000,10000,100000,1000000,10000000], datum.value) >= 0", "value": 2}, "value": 1}}},
                "y": {"field": "nsd", "type": "quantitative", "scale": {"type": "log", "domain": [0.1, 1000], "nice": false},
                  "axis": {"title": "NOISE SPECTRAL DENSITY (nV/√Hz)", "grid": true, "labelOverlap": false,
                    "values": [0.1,0.2,0.3,0.4,0.5,0.6,0.7,0.8,0.9,1,2,3,4,5,6,7,8,9,10,20,30,40,50,60,70,80,90,100,200,300,400,500,600,700,800,900,1000],
                    "labelExpr": "datum.value == 0.1 ? '0.1' : datum.value == 1 ? '1' : datum.value == 10 ? '10' : datum.value == 100 ? '100' : datum.value == 1000 ? '1000' : ''",
                    "gridWidth": {"condition": {"test": "indexof([0.1,1,10,100,1000], datum.value) >= 0", "value": 2}, "value": 1}}},
                "color": {"field": "curve", "type": "nominal",
                  "scale": {"domain": ["0.9V", "3.3V"], "range": ["#0000ff", "#ff0000"]},
                  "legend": {"title": null, "orient": "top-right", "symbolSize": 121, "symbolStrokeWidth": 3.5, "padding": 4}}
              }
            },
            {
              "data": {"values": [{}]},
              "mark": {"type": "rect", "fill": "white"},
              "encoding": {"x": {"datum": 1.03, "type": "quantitative"}, "x2": {"datum": 38}, "y": {"datum": 0.103, "type": "quantitative"}, "y2": {"datum": 0.186}}
            },
            {
              "data": {"values": [{}]},
              "mark": {"type": "text", "align": "left", "baseline": "middle", "fontWeight": "bold", "fontSize": 13},
              "encoding": {"x": {"datum": 1.29, "type": "quantitative"}, "y": {"datum": 0.14, "type": "quantitative"}, "text": {"value": "I"}}
            },
            {
              "data": {"values": [{}]},
              "mark": {"type": "text", "align": "left", "baseline": "middle", "fontWeight": "bold", "fontSize": 9.5},
              "encoding": {"x": {"datum": 1.64, "type": "quantitative"}, "y": {"datum": 0.125, "type": "quantitative"}, "text": {"value": "PVOUT2"}}
            },
            {
              "data": {"values": [{}]},
              "mark": {"type": "text", "align": "left", "baseline": "middle", "fontWeight": "bold", "fontSize": 12},
              "encoding": {"x": {"datum": 9.6, "type": "quantitative"}, "y": {"datum": 0.14, "type": "quantitative"}, "text": {"value": "= 1A"}}
            },
            {
              "data": {"values": [{}]},
              "mark": {"type": "text", "angle": 270, "fontSize": 6.5, "color": "#555555", "baseline": "middle", "align": "center"},
              "encoding": {"x": {"datum": 42000000, "type": "quantitative"}, "y": {"datum": 0.045, "type": "quantitative"}, "text": {"value": "15021-231"}}
            }
          ]
        },
        {"width": 202, "height": 1, "data": {"values": [{}]}, "mark": {"type": "point", "opacity": 0}},
        {
          "width": 379, "height": 298,
          "view": {"stroke": "black", "strokeWidth": 1.5},
          "title": {"text": ["Figure 14. LDO Noise Spectral Density vs. Frequency, VPVOUT2 = 3.3 V at", "Various LDO Load Currents"]},
          "layer": [
            {
              "data": {"name": "fig14"},
              "mark": {"type": "line", "strokeWidth": 2},
              "encoding": {
                "x": {"field": "hz", "type": "quantitative", "scale": {"type": "log", "domain": [1, 10000000], "nice": false},
                  "axis": {"title": "FREQUENCY (Hz)", "grid": true,
                    "values": [1,2,3,4,5,6,7,8,9,10,20,30,40,50,60,70,80,90,100,200,300,400,500,600,700,800,900,1000,2000,3000,4000,5000,6000,7000,8000,9000,10000,20000,30000,40000,50000,60000,70000,80000,90000,100000,200000,300000,400000,500000,600000,700000,800000,900000,1000000,2000000,3000000,4000000,5000000,6000000,7000000,8000000,9000000,10000000],
                    "labelExpr": "datum.value == 1 ? '1' : datum.value == 10 ? '10' : datum.value == 100 ? '100' : datum.value == 1000 ? '1k' : datum.value == 10000 ? '10k' : datum.value == 100000 ? '100k' : datum.value == 1000000 ? '1M' : datum.value == 10000000 ? '10M' : ''",
                    "gridWidth": {"condition": {"test": "indexof([1,10,100,1000,10000,100000,1000000,10000000], datum.value) >= 0", "value": 2}, "value": 1}}},
                "y": {"field": "nsd", "type": "quantitative", "scale": {"type": "log", "domain": [0.1, 1000], "nice": false},
                  "axis": {"title": "NOISE SPECTRAL DENSITY (nV/√Hz)", "grid": true, "labelOverlap": false,
                    "values": [0.1,0.2,0.3,0.4,0.5,0.6,0.7,0.8,0.9,1,2,3,4,5,6,7,8,9,10,20,30,40,50,60,70,80,90,100,200,300,400,500,600,700,800,900,1000],
                    "labelExpr": "datum.value == 0.1 ? '0.1' : datum.value == 1 ? '1' : datum.value == 10 ? '10' : datum.value == 100 ? '100' : datum.value == 1000 ? '1000' : ''",
                    "gridWidth": {"condition": {"test": "indexof([0.1,1,10,100,1000], datum.value) >= 0", "value": 2}, "value": 1}}},
                "color": {"field": "curve", "type": "nominal",
                  "scale": {"domain": ["0.1A", "1A", "3A"], "range": ["#0000ff", "#00ee00", "#ff0000"]},
                  "legend": {"title": null, "orient": "top-right", "symbolSize": 81, "symbolStrokeWidth": 2, "padding": 4, "labelOffset": 2}}
              }
            },
            {
              "data": {"values": [{}]},
              "mark": {"type": "rect", "fill": "white"},
              "encoding": {"x": {"datum": 1.03, "type": "quantitative"}, "x2": {"datum": 62}, "y": {"datum": 0.103, "type": "quantitative"}, "y2": {"datum": 0.21}}
            },
            {
              "data": {"values": [{}]},
              "mark": {"type": "text", "align": "left", "baseline": "middle", "fontWeight": "bold", "fontSize": 13},
              "encoding": {"x": {"datum": 1.18, "type": "quantitative"}, "y": {"datum": 0.15, "type": "quantitative"}, "text": {"value": "V"}}
            },
            {
              "data": {"values": [{}]},
              "mark": {"type": "text", "align": "left", "baseline": "middle", "fontWeight": "bold", "fontSize": 9.5},
              "encoding": {"x": {"datum": 1.68, "type": "quantitative"}, "y": {"datum": 0.136, "type": "quantitative"}, "text": {"value": "PVOUT2"}}
            },
            {
              "data": {"values": [{}]},
              "mark": {"type": "text", "align": "left", "baseline": "middle", "fontWeight": "bold", "fontSize": 12},
              "encoding": {"x": {"datum": 10, "type": "quantitative"}, "y": {"datum": 0.15, "type": "quantitative"}, "text": {"value": "= 3.3V"}}
            },
            {
              "data": {"values": [{}]},
              "mark": {"type": "text", "angle": 270, "fontSize": 6.5, "color": "#555555", "baseline": "middle", "align": "center"},
              "encoding": {"x": {"datum": 40000000, "type": "quantitative"}, "y": {"datum": 0.052, "type": "quantitative"}, "text": {"value": "15021-232"}}
            }
          ]
        }
      ]
    },
    {
      "width": 1115, "height": 144,
      "view": {"fill": "white", "stroke": null},
      "data": {"values": [{}]},
      "mark": {"type": "text", "align": "center", "baseline": "middle", "font": "Lato", "fontSize": 13, "color": "#222222"},
      "encoding": {
        "x": {"datum": 0.5, "type": "quantitative", "scale": {"domain": [0, 1]}, "axis": null},
        "y": {"datum": 0, "type": "quantitative", "scale": {"domain": [0, 1]}, "axis": null},
        "text": {"value": "Rev. 0 | Page 9 of 29"}
      }
    }
  ]
}
